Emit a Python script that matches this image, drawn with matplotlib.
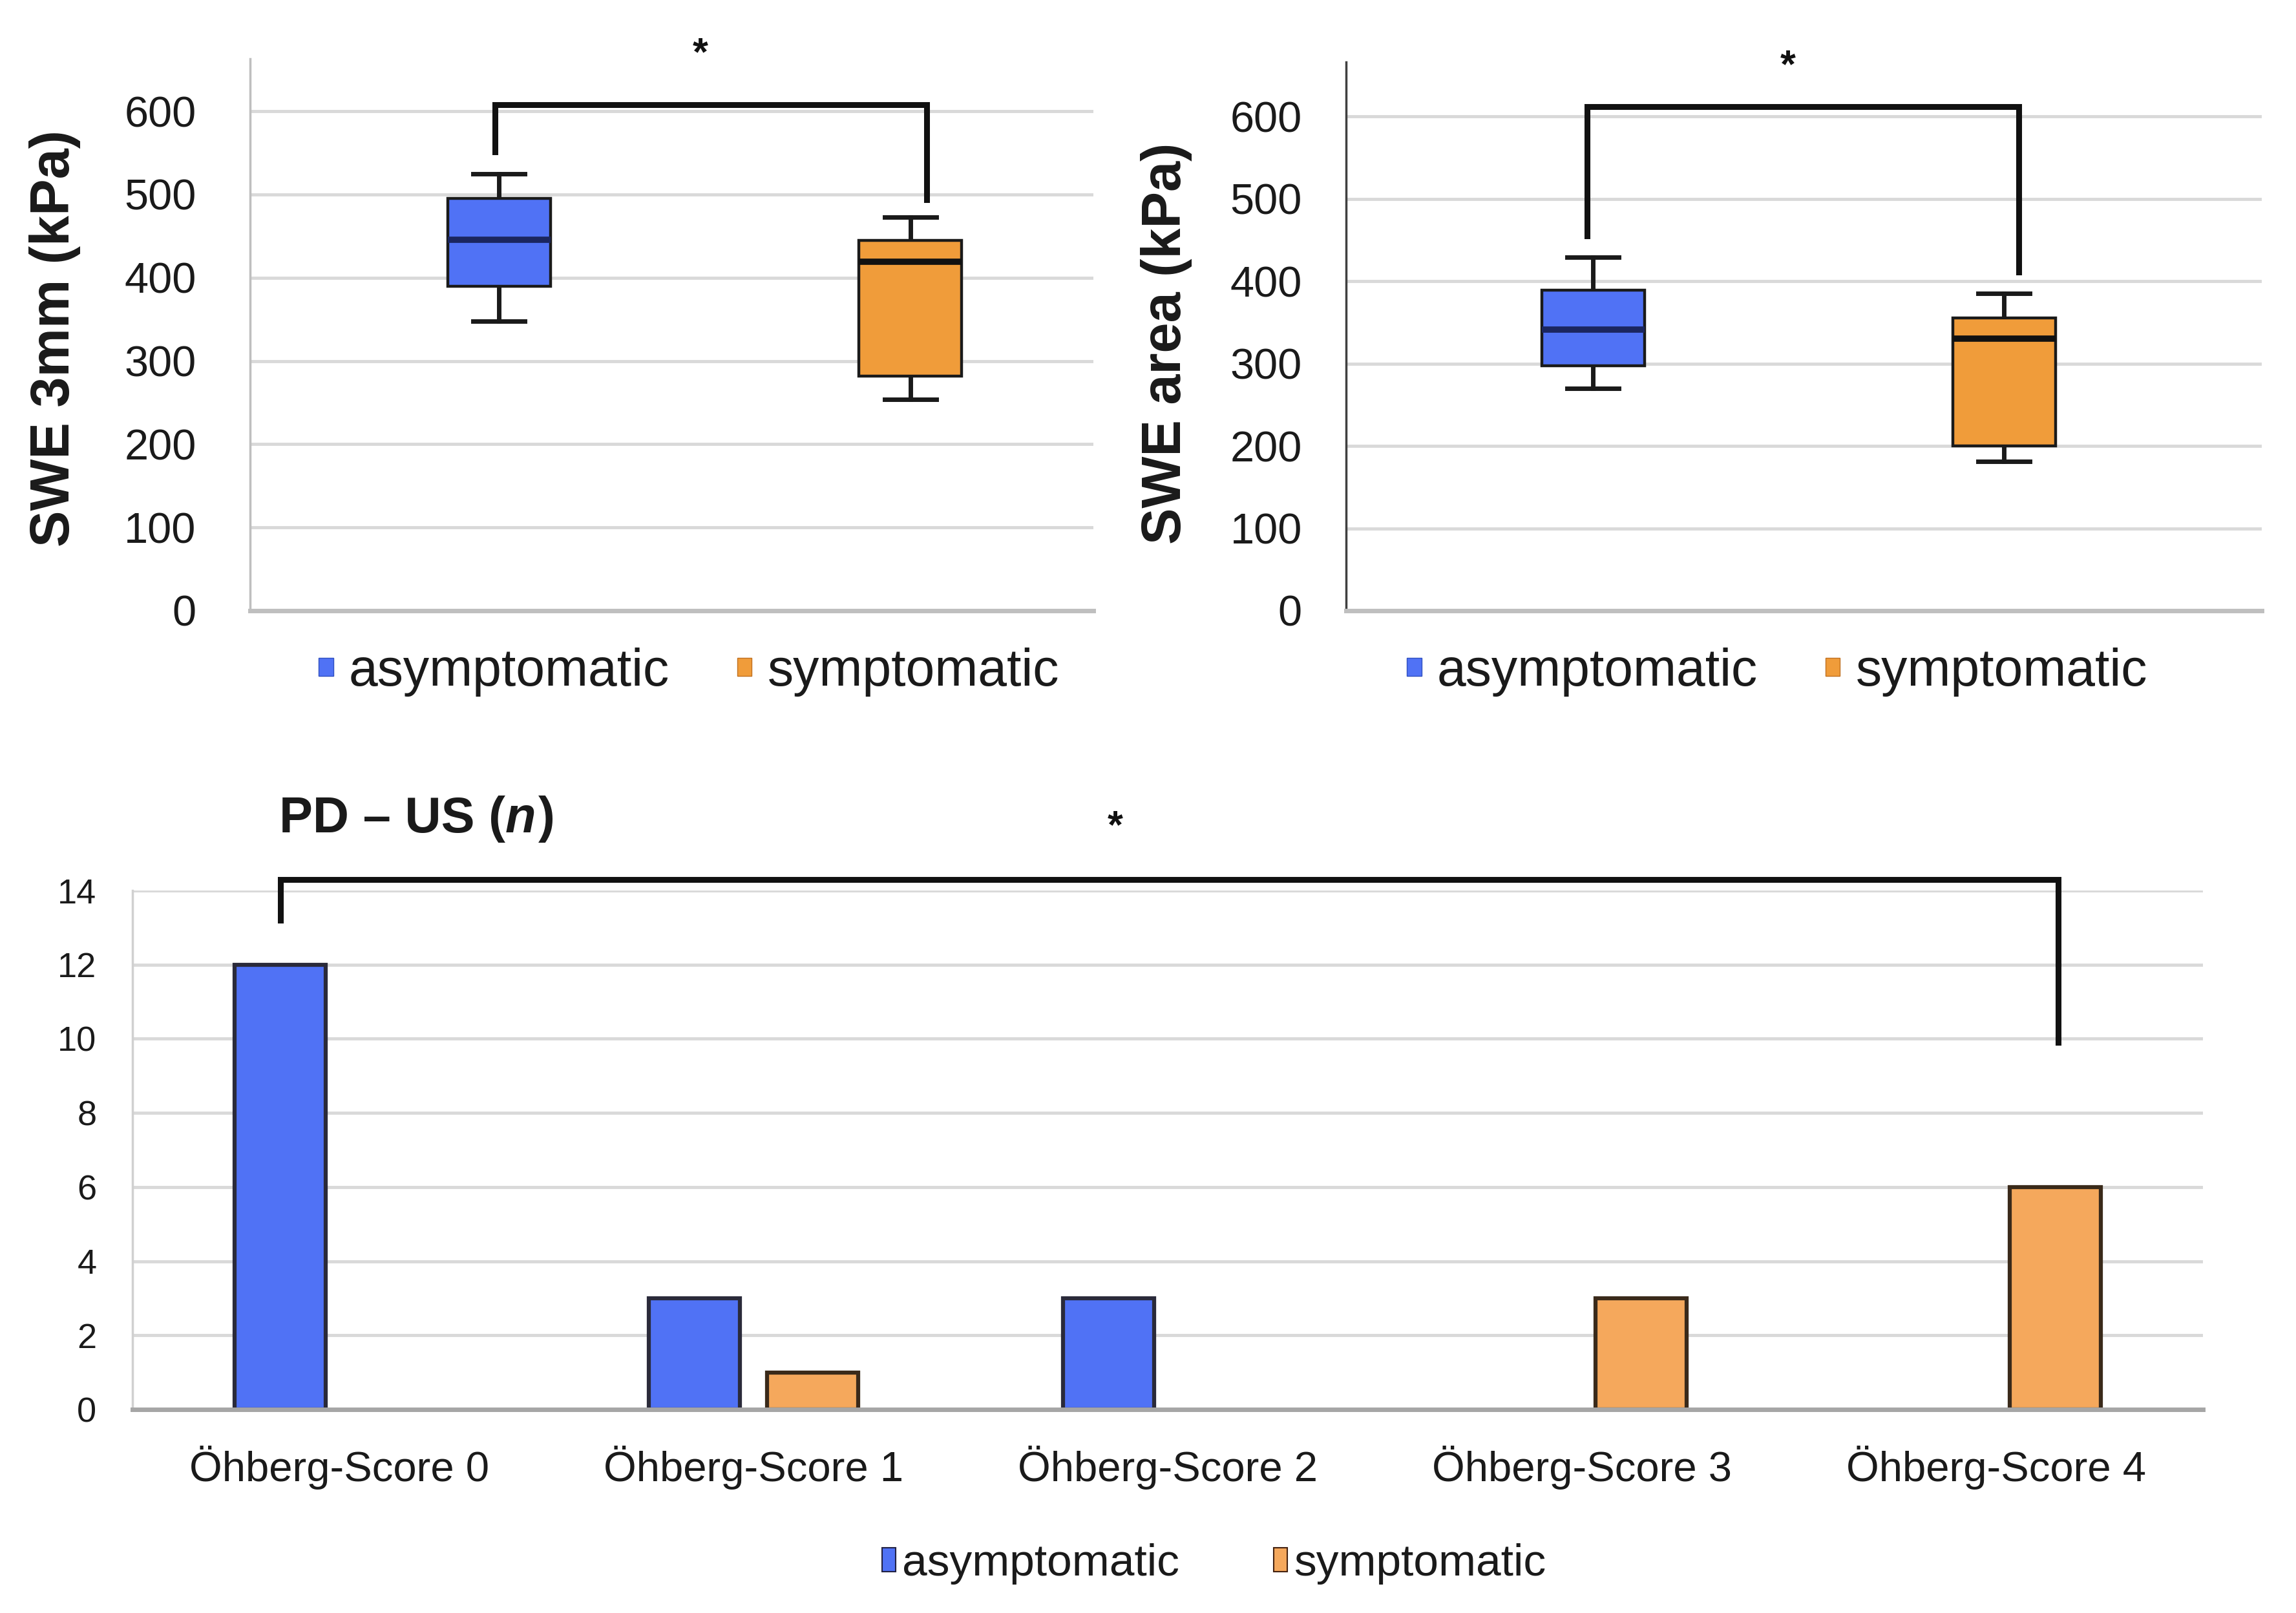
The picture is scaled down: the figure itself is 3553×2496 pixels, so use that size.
import matplotlib
matplotlib.use("Agg")
import matplotlib.pyplot as plt
from matplotlib.patches import Patch
import numpy as np

plt.rcParams['font.family'] = ['Liberation Sans', 'DejaVu Sans']

# ---------------- data ----------------
groups = ["asymptomatic", "symptomatic"]
# SWE 3mm (kPa): whisker low, Q1, median, Q3, whisker high
swe3_whislo = [348, 254]
swe3_q1 = [390, 282]
swe3_med = [446, 419]
swe3_q3 = [495, 445]
swe3_whishi = [525, 473]
# SWE area (kPa)
swea_whislo = [270, 181]
swea_q1 = [297, 200]
swea_med = [341, 330]
swea_q3 = [389, 355]
swea_whishi = [429, 385]

swe_ticks = [0, 100, 200, 300, 400, 500, 600]

scores = ["Öhberg-Score 0", "Öhberg-Score 1", "Öhberg-Score 2", "Öhberg-Score 3", "Öhberg-Score 4"]
pd_asym = [12, 3, 3, 0, 0]
pd_sym = [0, 1, 0, 3, 6]
pd_ticks = [0, 2, 4, 6, 8, 10, 12, 14]

BLUE = "#5072F5"
ORANGE_BOX = "#F09C3A"
ORANGE_BAR = "#F5A85C"
GRID = "#D9D9D9"
TXT = "#1A1A1A"

W, H = 3553, 2496
fig = plt.figure(figsize=(W / 100, H / 100), dpi=100)


def fx(px):
    return px / W


def fy(py):
    return 1 - py / H


def box_axes(rect, lo, q1, med, q3, hi, xlim, ylim_top, pad, spine_col,
             bracket, star, ylabel, ylabel_xy, legend_xy):
    ax = fig.add_axes(rect)
    stats = []
    for i in range(len(groups)):
        stats.append(dict(whislo=lo[i], q1=q1[i], med=med[i], q3=q3[i],
                          whishi=hi[i], label=groups[i]))
    res = ax.bxp(stats, positions=[1, 2], widths=0.25, capwidths=0.125,
                 patch_artist=True, showfliers=False,
                 boxprops=dict(linewidth=3.2, edgecolor="#1a1a1a"),
                 whiskerprops=dict(linewidth=5, color="#1a1a1a"),
                 capprops=dict(linewidth=5, color="#1a1a1a"),
                 medianprops=dict(linewidth=7))
    res['boxes'][0].set_facecolor(BLUE)
    res['boxes'][1].set_facecolor(ORANGE_BOX)
    res['medians'][0].set_color("#1B2660")
    res['medians'][1].set_color("#111111")
    for b in res['boxes']:
        b.set_zorder(3)
    for m in res['medians']:
        m.set_zorder(4)
    ax.set_xlim(*xlim)
    ax.set_ylim(0, ylim_top)
    ax.set_yticks(swe_ticks)
    ax.set_yticklabels([str(t) for t in swe_ticks])
    ax.set_xticks([])
    ax.tick_params(axis='y', length=0, pad=pad, labelsize=48, labelcolor=TXT)
    ax.grid(axis='y', color=GRID, linewidth=3.5, zorder=0)
    ax.set_axisbelow(True)
    for s in ['top', 'right']:
        ax.spines[s].set_visible(False)
    ax.spines['left'].set_color(spine_col)
    ax.spines['left'].set_linewidth(2.5)
    ax.spines['bottom'].set_color("#BFBFBF")
    ax.spines['bottom'].set_linewidth(5)
    # significance bracket
    (xl, yl0), (xr, yr0), ytop = bracket
    ax.plot([xl, xl, xr, xr], [yl0, ytop, ytop, yr0], color="#111111",
            linewidth=6.5, solid_joinstyle='miter', clip_on=False, zorder=5)
    ax.text(star[0], star[1], "*", ha='center', va='center', fontsize=44,
            fontweight='bold', color="#111111", clip_on=False)
    fig.text(fx(ylabel_xy[0]), fy(ylabel_xy[1]), ylabel, rotation=90,
             ha='center', va='center', fontsize=61, fontweight='bold',
             color=TXT)
    handles = [Patch(facecolor=BLUE, edgecolor="#3050C0", linewidth=1),
               Patch(facecolor=ORANGE_BOX, edgecolor="#C07020", linewidth=1)]
    fig.legend(handles, groups, loc='center', ncol=2, frameon=False,
               bbox_to_anchor=(fx(legend_xy[0]), fy(legend_xy[1])),
               fontsize=58, handlelength=0.28, handleheight=0.16,
               handletextpad=0.3, columnspacing=1.3, labelcolor=TXT)
    return ax


box_axes([fx(387), fy(945), fx(1692) - fx(387), fy(91) - fy(945)],
         swe3_whislo, swe3_q1, swe3_med, swe3_q3, swe3_whishi,
         (0.395, 2.445), 663, 60, "#BFBFBF",
         ((0.99, 551), (2.04, 494), 608), (1.49, 668),
         "SWE 3mm (kPa)", (85, 524), (1066, 1040))

box_axes([fx(2083), fy(945), fx(3500) - fx(2083), fy(96) - fy(945)],
         swea_whislo, swea_q1, swea_med, swea_q3, swea_whishi,
         (0.399, 2.627), 666, 49, "#404040",
         ((0.985, 455), (2.036, 411), 612), (1.474, 660),
         "SWE area (kPa)", (1805, 531), (2750, 1040))

# ---------------- bottom bar chart ----------------
ax3 = fig.add_axes([fx(205), fy(2181), fx(3409) - fx(205), fy(1378) - fy(2181)])
x = np.arange(len(scores))
off = 0.143
bw = 0.22
bars_a = ax3.bar(x - off, pd_asym, width=bw, color=BLUE, edgecolor="#2a2a3a",
                 linewidth=4.5, zorder=2)
bars_s = ax3.bar(x + off, pd_sym, width=bw, color=ORANGE_BAR, edgecolor="#3a2a1a",
                 linewidth=4.5, zorder=2)
for b in list(bars_a) + list(bars_s):
    if b.get_height() == 0:
        b.set_linewidth(0)
ax3.set_xlim(-0.5, 4.5)
ax3.set_ylim(0, 14)
ax3.set_yticks(pd_ticks)
ax3.set_yticklabels([str(t) for t in pd_ticks])
ax3.set_xticks(x)
ax3.set_xticklabels(scores)
ax3.tick_params(axis='y', length=0, pad=40, labelsize=39, labelcolor=TXT)
ax3.tick_params(axis='x', length=0, pad=40, labelsize=47, labelcolor=TXT)
ax3.grid(axis='y', color=GRID, linewidth=3.5, zorder=0)
ax3.set_axisbelow(True)
for s in ['top', 'right']:
    ax3.spines[s].set_visible(False)
ax3.spines['left'].set_color("#D0D0D0")
ax3.spines['left'].set_linewidth(2.5)
ax3.spines['bottom'].set_color("#A6A6A6")
ax3.spines['bottom'].set_linewidth(5)
ax3.plot([-0.143, -0.143, 4.15, 4.15], [13.2, 14.3, 14.3, 9.9],
         color="#111111", linewidth=6.5, solid_joinstyle='miter',
         clip_on=False, zorder=5)
ax3.text(1.873, 15.7, "*", ha='center', va='center', fontsize=44,
         fontweight='bold', color="#111111", clip_on=False)

# title: plain bold part + italic bold n
t1 = fig.text(fx(432), fy(1268), "PD \u2013 US (", ha='left', va='center',
              fontsize=56, fontweight='bold', color=TXT)
fig.canvas.draw()
bb = t1.get_window_extent()
t2 = fig.text(bb.x1 / W, fy(1268), "n", ha='left', va='center',
              fontsize=56, fontweight='bold', style='italic', color=TXT)
fig.canvas.draw()
bb2 = t2.get_window_extent()
fig.text(bb2.x1 / W + 0.001, fy(1268), ")", ha='left', va='center',
         fontsize=56, fontweight='bold', color=TXT)

handles3 = [Patch(facecolor=BLUE, edgecolor="#222244", linewidth=1.5),
            Patch(facecolor=ORANGE_BAR, edgecolor="#442211", linewidth=1.5)]
fig.legend(handles3, ["asymptomatic", "symptomatic"], loc='center', ncol=2,
           frameon=False, bbox_to_anchor=(fx(1879), fy(2420)),
           fontsize=50, handlelength=0.3, handleheight=0.45,
           handletextpad=0.15, columnspacing=2.1, labelcolor=TXT)

fig.savefig("out.png", dpi=100, facecolor="white")
